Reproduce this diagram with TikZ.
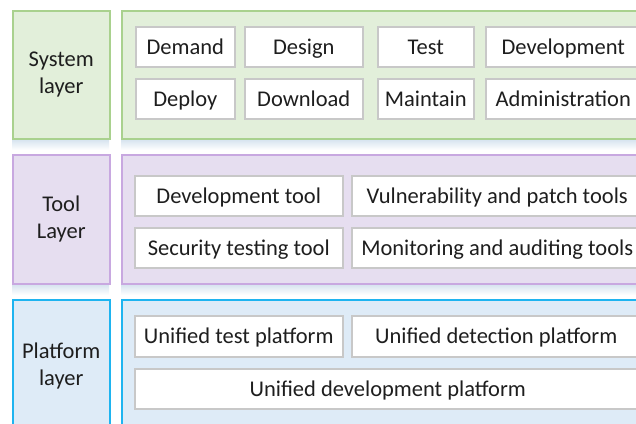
\documentclass[tikz,border=0pt]{standalone}
\usepackage{fontspec}
\setmainfont{Carlito}
\begin{document}
\begin{tikzpicture}[x=1pt,y=-1pt,
  txt/.style={text={rgb,255:red,30;green,30;blue,30}, font=\fontsize{22.5}{27}\selectfont, align=center},
  layerbox/.style={txt, draw, line width=1.5pt, anchor=north west, inner sep=0pt},
  sysc/.style={layerbox, fill={rgb,255:red,226;green,239;blue,218}, draw={rgb,255:red,169;green,209;blue,142}},
  toolc/.style={layerbox, fill={rgb,255:red,230;green,222;blue,240}, draw={rgb,255:red,200;green,168;blue,224}},
  platc/.style={layerbox, fill={rgb,255:red,222;green,235;blue,247}, draw={rgb,255:red,30;green,180;blue,240}},
  ibox/.style={txt, draw={rgb,255:red,200;green,200;blue,200}, fill=white, line width=1.5pt, anchor=north west, inner sep=0pt, minimum height=40pt, text height=15pt, text depth=0pt},
  shadowbox/.style={top color={rgb,255:red,212;green,226;blue,238}, bottom color=white, draw=none}
]
\clip (0,0) rectangle (636,423);
\fill[white] (0,0) rectangle (636,423);
% soft shadows under the layers
\shade[shadowbox] (12,139) rectangle (109,150);
\shade[shadowbox] (121,139) rectangle (640,150);
\shade[shadowbox] (12,284) rectangle (109,295);
\shade[shadowbox] (121,284) rectangle (640,295);

% System layer
\node[sysc, minimum width=97pt, minimum height=128pt] (syslab) at (12,10) {System\\layer};
\node[sysc, minimum width=530pt, minimum height=128pt] (sysbox) at (121,10) {};
\node[ibox, minimum width=99pt]  (demand) at (135,26) {Demand};
\node[ibox, minimum width=118pt] (design) at (244,26) {Design};
\node[ibox, minimum width=96pt]  (test)   at (377,26) {Test};
\node[ibox, minimum width=155pt] (devel)  at (485,26) {Development};
\node[ibox, minimum width=99pt]  (deploy) at (135,78) {Deploy};
\node[ibox, minimum width=118pt] (download) at (244,78) {Download};
\node[ibox, minimum width=96pt]  (maintain) at (377,78) {Maintain};
\node[ibox, minimum width=155pt] (admin)  at (485,78) {Administration};

% Tool layer
\node[toolc, minimum width=97pt, minimum height=129pt] (toollab) at (12,154) {Tool\\Layer};
\node[toolc, minimum width=530pt, minimum height=129pt] (toolbox) at (121,154) {};
\node[ibox, minimum width=208pt] (devtool) at (134,175) {Development tool};
\node[ibox, minimum width=291pt] (vuln)    at (351,175) {Vulnerability and patch tools};
\node[ibox, minimum width=208pt] (sectest) at (134,227) {Security testing tool};
\node[ibox, minimum width=291pt] (monitor) at (351,227) {Monitoring and auditing tools};

% Platform layer
\node[platc, minimum width=97pt, minimum height=132pt] (platlab) at (12,299) {Platform\\layer};
\node[platc, minimum width=530pt, minimum height=140pt] (platbox) at (121,299) {};
\node[ibox, minimum width=208pt, minimum height=41pt] (utest) at (134,315) {Unified test platform};
\node[ibox, minimum width=289pt, minimum height=41pt] (udetect) at (351,315) {Unified detection platform};
\node[ibox, minimum width=506pt] (udev) at (134,368) {Unified development platform};
\end{tikzpicture}
\end{document}
